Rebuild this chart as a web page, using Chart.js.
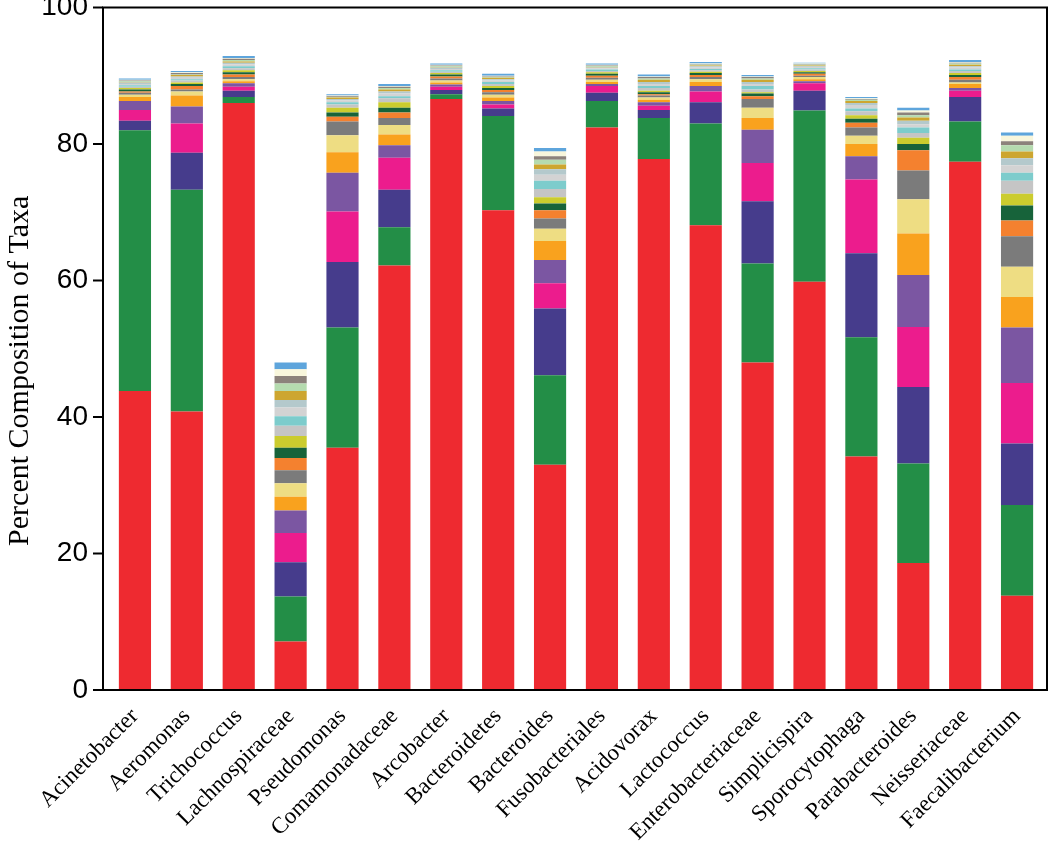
<!DOCTYPE html>
<html>
<head>
<meta charset="utf-8">
<title>Percent Composition of Taxa</title>
<script src="https://cdn.jsdelivr.net/npm/chart.js@4.4.1/dist/chart.umd.min.js"></script>
<style>
    html, body { margin: 0; padding: 0; background: #fff; }
</style>
</head>
<body>
<canvas id="taxaChart" width="1050" height="846"></canvas>
<script>
"use strict";

var categories = ['Acinetobacter', 'Aeromonas', 'Trichococcus', 'Lachnospiraceae', 'Pseudomonas',
    'Comamonadaceae', 'Arcobacter', 'Bacteroidetes', 'Bacteroides', 'Fusobacteriales', 'Acidovorax',
    'Lactococcus', 'Enterobacteriaceae', 'Simplicispira', 'Sporocytophaga', 'Parabacteroides',
    'Neisseriaceae', 'Faecalibacterium'];

var yTicks = [0, 20, 40, 60, 80, 100];
var yTitle = 'Percent Composition of Taxa';

/* stacked layers, bottom to top, one value per bar (percent) */
var layerRed      = [43.8, 40.8, 86.0, 7.1, 35.5, 62.2, 86.6, 70.3, 33.0, 82.4, 77.8, 68.1, 48.0, 59.8, 34.2, 18.6, 77.4, 13.8];
var layerGreen    = [38.2, 32.5, 0.9, 6.6, 17.6, 5.6, 0.7, 13.8, 13.1, 3.9, 6.0, 14.9, 14.5, 25.1, 17.5, 14.6, 5.9, 13.3];
var layerIndigo   = [1.4, 5.4, 0.9, 5.0, 9.6, 5.5, 0.6, 1.1, 9.8, 1.2, 1.2, 3.1, 9.1, 2.9, 12.3, 11.2, 3.6, 9.0];
var layerMagenta  = [1.6, 4.3, 0.6, 4.3, 7.4, 4.7, 0.5, 0.6, 3.7, 1.0, 0.6, 1.6, 5.6, 1.1, 10.8, 8.8, 0.9, 8.9];
var layerPurple   = [1.3, 2.5, 0.5, 3.3, 5.7, 1.8, 0.3, 0.5, 3.4, 0.3, 0.5, 0.8, 4.9, 0.3, 3.4, 7.6, 0.4, 8.1];
var layerOrange   = [0.6, 1.6, 0.3, 2.0, 3.0, 1.6, 0.3, 0.5, 2.8, 0.3, 0.4, 0.6, 1.7, 0.3, 1.8, 6.1, 0.6, 4.5];
var layerSand     = [0.3, 0.6, 0.3, 2.0, 2.5, 1.4, 0.3, 0.4, 1.8, 0.3, 0.3, 0.4, 1.5, 0.3, 1.2, 5.0, 0.2, 4.4];
var layerGray     = [0.3, 0.3, 0.3, 1.9, 2.0, 1.0, 0.3, 0.4, 1.5, 0.3, 0.3, 0.3, 1.3, 0.2, 1.2, 4.2, 0.4, 4.5];
var layerTangerine= [0.2, 0.5, 0.4, 1.8, 0.7, 0.8, 0.3, 0.3, 1.2, 0.3, 0.2, 0.3, 0.4, 0.3, 0.7, 3.0, 0.4, 2.3];
var layerForest   = [0.3, 0.3, 0.3, 1.5, 0.6, 0.7, 0.3, 0.3, 1.0, 0.3, 0.3, 0.3, 0.4, 0.2, 0.6, 0.9, 0.3, 2.2];
var layerOlive    = [0.2, 0.2, 0.3, 1.7, 0.7, 0.8, 0.2, 0.3, 0.9, 0.2, 0.2, 0.2, 0.2, 0.2, 0.5, 0.9, 0.3, 1.7];
var layerSilver   = [0.2, 0.3, 0.3, 1.5, 0.5, 0.6, 0.2, 0.3, 1.2, 0.2, 0.4, 0.2, 0.4, 0.2, 0.6, 0.7, 0.3, 1.9];
var layerTeal     = [0.2, 0.2, 0.3, 1.4, 0.3, 0.3, 0.2, 0.3, 1.2, 0.2, 0.3, 0.2, 0.5, 0.2, 0.4, 0.8, 0.2, 1.2];
var layerLight    = [0.2, 0.2, 0.3, 1.3, 0.3, 0.4, 0.2, 0.2, 0.9, 0.2, 0.3, 0.2, 0.3, 0.2, 0.5, 0.5, 0.3, 1.1];
var layerSlate    = [0.2, 0.2, 0.2, 1.1, 0.2, 0.3, 0.2, 0.2, 0.8, 0.1, 0.3, 0.2, 0.3, 0.1, 0.3, 0.5, 0.2, 1.0];
var layerMustard  = [0.1, 0.2, 0.2, 1.3, 0.2, 0.3, 0.1, 0.2, 0.7, 0.1, 0.3, 0.1, 0.3, 0.1, 0.3, 0.5, 0.2, 1.0];
var layerMint     = [0.1, 0.1, 0.2, 1.1, 0.1, 0.2, 0.1, 0.1, 0.7, 0.1, 0.2, 0.1, 0.2, 0.1, 0.2, 0.3, 0.2, 0.9];
var layerTaupe    = [0.1, 0.2, 0.2, 1.1, 0.1, 0.2, 0.1, 0.1, 0.5, 0.1, 0.2, 0.1, 0.2, 0.1, 0.1, 0.4, 0.1, 0.6];
var layerCream    = [0.1, 0.1, 0.1, 1.0, 0.1, 0.1, 0.1, 0.1, 0.7, 0.1, 0.1, 0.1, 0.1, 0.1, 0.1, 0.3, 0.1, 0.8];
var layerBlue     = [0.2, 0.2, 0.3, 1.0, 0.2, 0.3, 0.2, 0.3, 0.5, 0.2, 0.3, 0.2, 0.2, 0.1, 0.2, 0.4, 0.3, 0.5];

var layers = [layerRed, layerGreen, layerIndigo, layerMagenta, layerPurple, layerOrange, layerSand,
    layerGray, layerTangerine, layerForest, layerOlive, layerSilver, layerTeal, layerLight, layerSlate,
    layerMustard, layerMint, layerTaupe, layerCream, layerBlue];

var layerColors = ['#ee2a30', '#238e47', '#463c8c', '#ec1c8d', '#7b56a2', '#f9a21e', '#eedd83',
    '#7b7b7b', '#f4812f', '#17633a', '#cbcc2e', '#c5c5c5', '#7dcccc', '#d3d3d3', '#b4c9cc',
    '#cda630', '#b5dbaf', '#8c827b', '#f8f6dc', '#5ea5dc'];

/* box around the plot, outward y tick marks and the y title
   (box sits a bit wider than the bar area, title is a little below centre in the original) */
var framePlugin = {
    id: 'frame',
    afterDraw: function (chart) {
        var ctx = chart.ctx;
        var area = chart.chartArea;
        var yScale = chart.scales.y;
        var left = area.left - 6;
        var right = area.right + 4;
        ctx.save();
        ctx.strokeStyle = '#000';
        ctx.lineWidth = 2;
        ctx.strokeRect(left, area.top, right - left, area.bottom - area.top);
        yTicks.forEach(function (v) {
            var py = yScale.getPixelForValue(v);
            ctx.beginPath();
            ctx.moveTo(left - 10, py);
            ctx.lineTo(left, py);
            ctx.stroke();
        });

        ctx.translate(20, (area.top + area.bottom) / 2 + 22);
        ctx.rotate(-Math.PI / 2);
        ctx.fillStyle = '#000';
        ctx.font = '30px "Liberation Serif", "Times New Roman", serif';
        ctx.textAlign = 'center';
        ctx.textBaseline = 'middle';
        ctx.fillText(yTitle, 0, 0);
        ctx.restore();
    }
};

var datasets = layers.map(function (values, i) {
    return {
        data: values,
        backgroundColor: layerColors[i],
        borderWidth: 0,
        barPercentage: 0.62,
        categoryPercentage: 1.0
    };
});

var ctx = document.getElementById('taxaChart').getContext('2d');
var taxaChart = new Chart(ctx, {
    type: 'bar',
    data: {
        labels: categories,
        datasets: datasets
    },
    options: {
        responsive: false,
        animation: false,
        layout: {
            padding: { top: 7.5, right: 7, left: 0, bottom: 0 }
        },
        plugins: {
            legend: { display: false },
            tooltip: { enabled: false }
        },
        scales: {
            x: {
                stacked: true,
                grid: { display: false },
                border: { display: false },
                ticks: {
                    autoSkip: false,
                    minRotation: 45,
                    maxRotation: 45,
                    padding: 5,
                    color: '#000',
                    font: { family: '"Liberation Serif", "Times New Roman", serif', size: 23 }
                },
                afterFit: function (scale) {
                    scale.height = 156;
                    scale.paddingLeft = 0;
                    scale.paddingRight = 0;
                }
            },
            y: {
                stacked: true,
                min: 0,
                max: 100,
                grid: { display: false },
                border: { display: false },
                ticks: {
                    stepSize: 20,
                    padding: 13,
                    color: '#000',
                    font: { family: '"Liberation Sans", Arial, sans-serif', size: 28 }
                },
                afterFit: function (scale) {
                    scale.width = 109;
                    scale.paddingTop = 0;
                    scale.paddingBottom = 0;
                }
            }
        }
    },
    plugins: [framePlugin]
});
</script>
</body>
</html>
